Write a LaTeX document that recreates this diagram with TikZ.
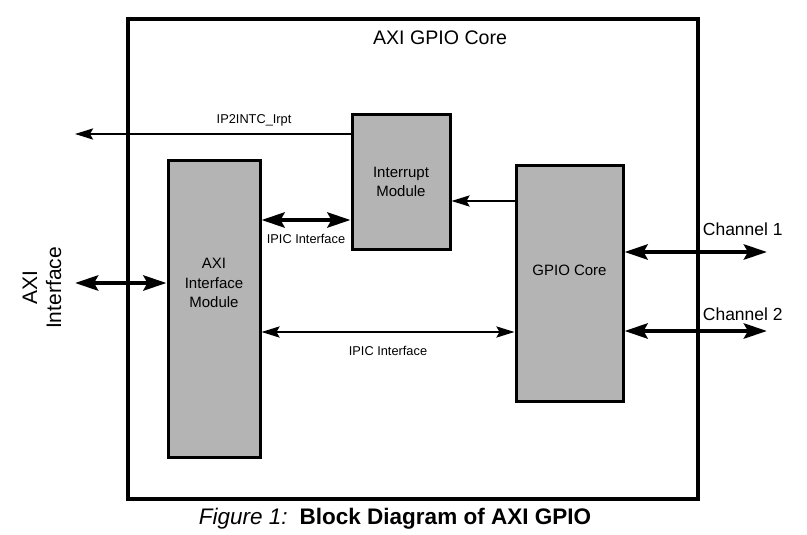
\documentclass[tikz,border=0pt]{standalone}
\usepackage{fontspec}
\setmainfont{Liberation Sans}
\usetikzlibrary{arrows.meta}
\definecolor{modgray}{RGB}{180,180,180}
\tikzset{every picture/.style={>=Stealth},
  module/.style={rectangle,draw,line width=3pt,fill=modgray,inner sep=0pt,
    align=center,font=\fontsize{15}{19.5}\selectfont},
  modtext/.style={align=center,font=\fontsize{15}{19.5}\selectfont},
  lbl/.style={font=\fontsize{12.8}{15}\selectfont},
  chan/.style={font=\fontsize{17.5}{21}\selectfont},
  wire/.style={line width=2.4pt,>={Stealth[length=18pt,width=11pt,inset=3pt]}},
  bus/.style={line width=4.5pt,>={Stealth[length=23pt,width=15pt,inset=4pt]}}}

\begin{document}
\begin{tikzpicture}[x=1pt,y=-1pt]
  \useasboundingbox (0,0) rectangle (807,535);
  \node (core) [draw,line width=3.5pt,minimum width=570pt,minimum height=480pt,inner sep=0pt] at (413,259) {};
  \node (title) [font=\fontsize{19.6}{24}\selectfont] at (440,38) {AXI GPIO Core};
  \node (axi) [module,minimum width=92pt,minimum height=297pt] at (214,308.5) {};
  \node (axitxt) [modtext] at (214,283) {AXI\\Interface\\Module};
  \node (int) [module,minimum width=98pt,minimum height=134pt] at (401,182) {Interrupt\\Module};
  \node (gpio) [module,minimum width=107pt,minimum height=236pt] at (569.5,283) {};
  \node (gpiotxt) [modtext] at (569.5,270) {GPIO Core};
  % free ends and signal levels
  \coordinate (irq) at (75,134);
  \coordinate (axiport) at (75,283);
  \coordinate (ch1) at (767,252);
  \coordinate (ch2) at (767,331);
  \coordinate (ipic1) at (0,220);
  \coordinate (ipic2) at (0,332);
  \coordinate (stat) at (0,201);
  \draw [wire,->] (int.west |- irq) -- node[lbl,pos=0.35,yshift=14pt] {IP2INTC\_Irpt} (irq);
  \draw [bus,<->] (axi.east |- ipic1) -- node[lbl,yshift=-19pt] {IPIC Interface} (int.west |- ipic1);
  \draw [wire,->] (gpio.west |- stat) -- (int.east |- stat);
  \draw [wire,<->] (axi.east |- ipic2) -- node[lbl,yshift=-19pt] {IPIC Interface} (gpio.west |- ipic2);
  \draw [bus,<->] (axiport) -- (axi.west |- axiport);
  \node (axilbl) [rotate=90,align=center,font=\fontsize{21}{24}\selectfont] at (42,288) {AXI\\Interface};
  \draw [bus,<->] (gpio.east |- ch1) -- node[chan,pos=0.83,yshift=23pt] {Channel 1} (ch1);
  \draw [bus,<->] (gpio.east |- ch2) -- node[chan,pos=0.83,yshift=17pt] {Channel 2} (ch2);
  \node (caption) [anchor=base] at (395,524) {\fontsize{22.5}{27}\selectfont\textit{Figure 1:}\hspace{12pt}\textbf{Block Diagram of AXI GPIO}};
\end{tikzpicture}
\end{document}
